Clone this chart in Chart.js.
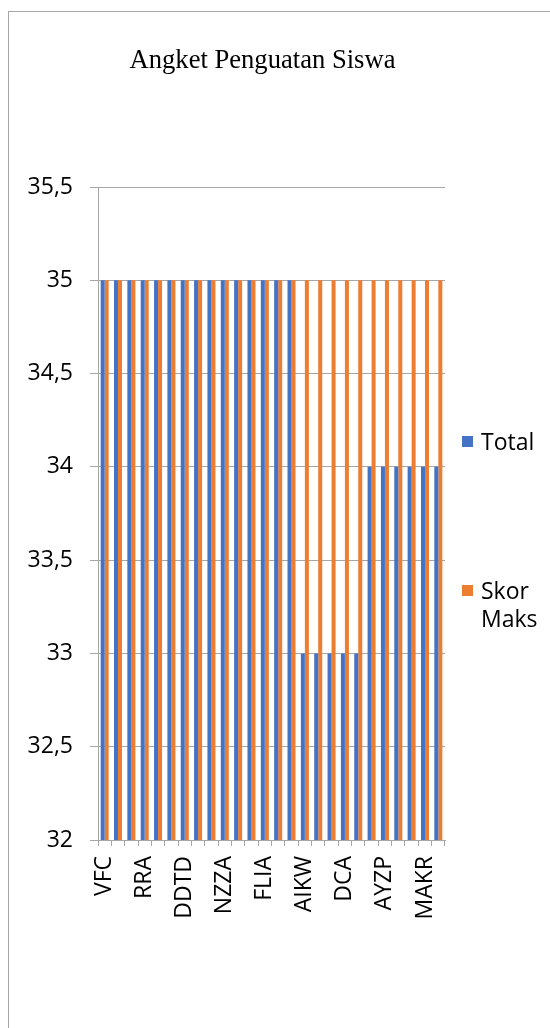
<!DOCTYPE html>
<html>
<head>
<meta charset="utf-8">
<script src="https://cdn.jsdelivr.net/npm/chart.js@4.4.1/dist/chart.umd.min.js"></script>
<style>
  html, body { margin: 0; padding: 0; background: #fff; }
  #wrap { position: relative; width: 550px; height: 1028px; overflow: hidden; }
  #frame { position: absolute; left: 8px; top: 11px; width: 700px; height: 1200px;
           border: 1.5px solid #a6a6a6; box-sizing: border-box; }
  #title { position: absolute; left: 0; top: 44px; width: 525px; text-align: center;
           font: 26.6px/30px "Liberation Serif", "Times New Roman", serif; color: #000; }
  #chart { position: absolute; left: 0; top: 0; }
  .leg { position: absolute; left: 462px; font: 23px/28px "Open Sans", sans-serif; color: #000; }
  .leg .sw { position: absolute; left: 0; top: 9px; width: 11px; height: 11px; }
  .leg .tx { position: absolute; left: 19px; top: 0; white-space: nowrap; }
</style>
</head>
<body>
<div id="wrap">
  <div id="frame"></div>
  <canvas id="chart" width="550" height="1028"></canvas>
  <div id="title">Angket Penguatan Siswa</div>
  <div class="leg" id="leg1" style="top:427px"><span class="sw" style="background:#4472C4"></span><span class="tx">Total</span></div>
  <div class="leg" id="leg2" style="top:576px"><span class="sw" style="background:#ED7D31"></span><span class="tx">Skor<br>Maks</span></div>
</div>
<script>
// Student codes (only every third one is printed on the axis)
const students = [
  'VFC', '', '', 'RRA', '', '', 'DDTD', '', '', 'NZZA', '', '', 'FLIA', '',
  '', 'AIKW', '', '', 'DCA', '', '', 'AYZP', '', '', 'MAKR', ''
];
// Questionnaire totals per student
const totalScores = [
  35, 35, 35, 35, 35, 35, 35, 35, 35, 35, 35, 35, 35, 35, 35,
  33, 33, 33, 33, 33,
  34, 34, 34, 34, 34, 34
];
// Maximum attainable score per student
const maxScores = [
  35, 35, 35, 35, 35, 35, 35, 35, 35, 35, 35, 35, 35,
  35, 35, 35, 35, 35, 35, 35, 35, 35, 35, 35, 35, 35
];
const seriesNames = ['Total', 'Skor Maks'];
const yMin = 32, yMax = 35.5, yStep = 0.5;

const gridColor = '#a6a6a6';
const axisFont = { family: '"Open Sans", sans-serif', size: 23 };

new Chart(document.getElementById('chart'), {
  type: 'bar',
  data: {
    labels: students,
    datasets: [
      { label: seriesNames[0], data: totalScores, backgroundColor: '#4472C4',
        categoryPercentage: 0.6, barPercentage: 1.0 },
      { label: seriesNames[1], data: maxScores, backgroundColor: '#ED7D31',
        categoryPercentage: 0.6, barPercentage: 1.0 }
    ]
  },
  options: {
    responsive: false,
    animation: false,
    layout: { padding: { top: 187, left: 0, right: 105, bottom: 88 } },
    plugins: {
      legend: { display: false },
      title: { display: false },
      tooltip: { enabled: false }
    },
    scales: {
      x: {
        offset: true,
        afterFit: (s) => { s.height = 100; },
        grid: { drawOnChartArea: false, offset: true, tickLength: 6, color: gridColor, lineWidth: 1 },
        border: { display: true, color: gridColor, width: 1 },
        ticks: {
          autoSkip: false, maxRotation: 90, minRotation: 90, padding: 10,
          color: '#000', font: axisFont
        }
      },
      y: {
        min: yMin, max: yMax,
        afterFit: (s) => { s.width = 98; },
        grid: { color: gridColor, tickLength: 8, lineWidth: 1 },
        border: { display: true, color: gridColor, width: 1 },
        ticks: {
          stepSize: yStep, padding: 17, color: '#000', font: axisFont,
          callback: (v) => String(v).replace('.', ',')
        }
      }
    }
  }
});
</script>
</body>
</html>
